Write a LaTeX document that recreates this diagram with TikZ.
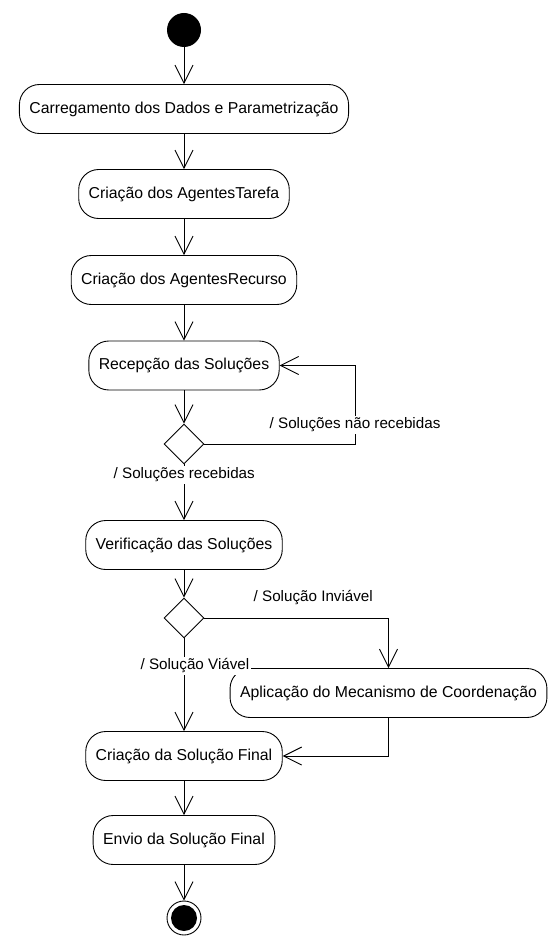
\documentclass[tikz,border=0pt]{standalone}
\usepackage{fontspec}
\setmainfont{Liberation Sans}
\usetikzlibrary{arrows.meta,shapes.geometric}
\begin{document}
\begin{tikzpicture}[x=1pt,y=-1pt,
  every node/.style={font=\fontsize{15.8}{19}\selectfont},
  activity/.style={draw, rounded corners=20pt, minimum height=49pt, inner xsep=10pt, line width=0.9pt},
  decision/.style={draw, diamond, minimum width=40pt, minimum height=40pt, inner sep=0pt, line width=0.9pt},
  flow/.style={line width=0.9pt, -{Straight Barb[length=18pt,width=18pt]}},
  guard/.style={fill=white, inner sep=1.5pt, font=\fontsize{15.2}{18}\selectfont}]
\useasboundingbox (0,0) rectangle (554,936);

% initial state
\node[circle, fill=black, minimum size=34pt, inner sep=0pt] (start) at (184,30) {};

% activities
\node[activity] (b1) at (184,109) {Carregamento dos Dados e Parametrização};
\node[activity] (b2) at (184,194) {Criação dos AgentesTarefa};
\node[activity] (b3) at (184,280) {Criação dos AgentesRecurso};
\node[activity] (b4) at (184,365.5) {Recepção das Soluções};
\node[decision] (d1) at (184,444) {};
\node[activity] (b5) at (184,545) {Verificação das Soluções};
\node[decision] (d2) at (184,618) {};
\node[activity] (b6) at (388.5,693) {Aplicação do Mecanismo de Coordenação};
\node[activity] (b7) at (184,756) {Criação da Solução Final};
\node[activity] (b8) at (184,840) {Envio da Solução Final};

% final state
\node[circle, draw, line width=0.9pt, minimum size=34pt, inner sep=0pt] (end) at (184,918) {};
\node[circle, fill=black, minimum size=26pt, inner sep=0pt] (endcore) at (end) {};

% control flow
\draw[flow] (start) -- (b1);
\draw[flow] (b1) -- (b2);
\draw[flow] (b2) -- (b3);
\draw[flow] (b3) -- (b4);
\draw[flow] (b4) -- (d1);
\draw[flow] (d1) -- (b5);
\draw[flow] (d1.east) -- ++(151,0) |- (b4.east);
\draw[flow] (b5) -- (d2);
\draw[flow] (d2.east) -| (b6.north);
\draw[flow] (d2) -- (b7);
\draw[flow] (b6.south) |- (b7.east);
\draw[flow] (b7) -- (b8);
\draw[flow] (b8) -- (end);

% guard conditions
\node[guard, anchor=west] (gnot) at (268,425) {/ Soluções não recebidas};
\node[guard, anchor=west] (gyes) at (112,475) {/ Soluções recebidas};
\node[guard, anchor=west] (ginv) at (252,598) {/ Solução Inviável};
\node[guard, anchor=east] (gvia) at (251,666) {/ Solução Viável};
\end{tikzpicture}
\end{document}
